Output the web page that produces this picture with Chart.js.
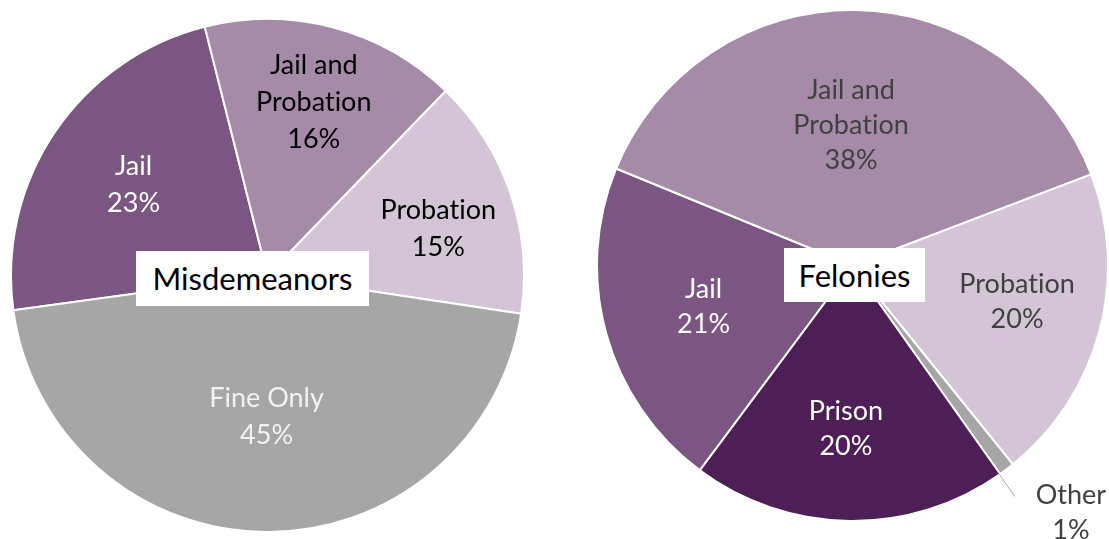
<!DOCTYPE html>
<html>
<head>
<meta charset="utf-8">
<script src="https://cdn.jsdelivr.net/npm/chart.js@4.4.0/dist/chart.umd.min.js"></script>
<style>
  body { margin: 0; background: #fff; width: 1109px; height: 539px; overflow: hidden; position: relative; font-family: Lato, "Open Sans", sans-serif; font-variant-ligatures: none; }
  .pie-box { position: absolute; }
  .title-box { position: absolute; background: #fff; color: #000; font-size: 31px; text-align: center; z-index: 2; }
</style>
</head>
<body>
<div class="pie-box" id="misdBox" style="left:10px;top:18px;width:515px;height:515px;"><canvas id="misdChart"></canvas></div>
<div class="pie-box" id="felonyBox" style="left:596px;top:9px;width:513px;height:530px;"><canvas id="felonyChart"></canvas></div>
<div class="title-box" id="misdTitle" style="left:136px;top:251px;width:233px;height:55px;line-height:55px;">Misdemeanors</div>
<div class="title-box" id="felonyTitle" style="left:784px;top:248px;width:141px;height:54px;line-height:54px;">Felonies</div>

<script>
var misdLabels = ['Jail', 'Jail and Probation', 'Probation', 'Fine Only'];
var misdValues = [23, 16, 15, 45];
var misdColors = ['#7b5682', '#a68ba9', '#d3c5d6', '#a6a6a6'];

var felonyLabels = ['Jail', 'Jail and Probation', 'Probation', 'Other', 'Prison'];
var felonyValues = [21, 38, 20, 1, 20];
var felonyColors = ['#7b5682', '#a68ba9', '#d3c5d6', '#a6a6a6', '#4e1e56'];

// draws the "name / pct" text inside (or next to) each slice
var sliceLabelPlugin = {
    id: 'sliceLabels',
    afterDraw: function(chart, args, opts) {
        var ctx = chart.ctx;
        var meta = chart.getDatasetMeta(0);
        var values = chart.data.datasets[0].data;
        var names = chart.data.labels;
        ctx.save();
        ctx.font = opts.font;
        ctx.letterSpacing = '0.01px'; // keeps Lato from joining "ti"
        ctx.textAlign = 'center';
        ctx.textBaseline = 'middle';
        meta.data.forEach(function(arc, i) {
            var p = arc.getProps(['x', 'y', 'startAngle', 'endAngle', 'outerRadius'], true);
            var pos = opts.positions[i];
            var mid = (p.startAngle + p.endAngle) / 2 + pos[1] * Math.PI / 180;
            var r = p.outerRadius * pos[0];
            var x = p.x + Math.cos(mid) * r;
            var y = p.y + Math.sin(mid) * r;

            var lead = opts.leaders ? opts.leaders[i] : null;
            if (lead) {
                var a = (p.startAngle + p.endAngle) / 2 + lead[2] * Math.PI / 180;
                ctx.strokeStyle = '#a6a6a6';
                ctx.lineWidth = 1;
                ctx.beginPath();
                ctx.moveTo(p.x + Math.cos(a) * p.outerRadius * lead[0], p.y + Math.sin(a) * p.outerRadius * lead[0]);
                ctx.lineTo(p.x + Math.cos(a) * p.outerRadius * lead[1], p.y + Math.sin(a) * p.outerRadius * lead[1]);
                ctx.stroke();
            }

            var lines = names[i].replace('and ', 'and\n').split('\n');
            lines.push(values[i] + '%');
            var lh = opts.lineHeight;
            var top = y - (lines.length - 1) * lh / 2;
            ctx.fillStyle = opts.colors[i];
            lines.forEach(function(t, k) {
                ctx.fillText(t, x, top + k * lh);
            });
        });
        ctx.restore();
    }
};

function drawPie(canvasId, labels, values, colors, rotation, labelOpts, padding) {
    const ctx = document.getElementById(canvasId).getContext('2d');
    return new Chart(ctx, {
        type: 'pie',
        data: {
            labels: labels,
            datasets: [{
                data: values,
                backgroundColor: colors,
                borderColor: '#ffffff',
                borderWidth: 2
            }]
        },
        options: {
            responsive: true,
            maintainAspectRatio: false,
            animation: false,
            rotation: rotation,
            layout: { padding: padding },
            plugins: {
                legend: { display: false },
                tooltip: { enabled: false },
                sliceLabels: labelOpts
            }
        },
        plugins: [sliceLabelPlugin]
    });
}

drawPie('misdChart', misdLabels, misdValues, misdColors, -97.8, {
    font: '27px Lato',
    lineHeight: 37,
    colors: ['#ffffff', '#000000', '#000000', '#f2f2f2'],
    positions: [[0.63, 0], [0.70, 0], [0.69, 3.5], [0.55, 0]]
}, 0);

drawPie('felonyChart', felonyLabels, felonyValues, felonyColors, -143.3, {
    font: '27px Lato',
    lineHeight: 35,
    colors: ['#ffffff', '#404040', '#404040', '#404040', '#ffffff'],
    positions: [[0.605, 0], [0.547, -1.3], [0.66, -2.5], [1.29, -4.4], [0.64, 1.6]],
    leaders: [null, null, null, [1.0, 1.105, 2], null]
}, { bottom: 17 });
</script>
</body>
</html>
